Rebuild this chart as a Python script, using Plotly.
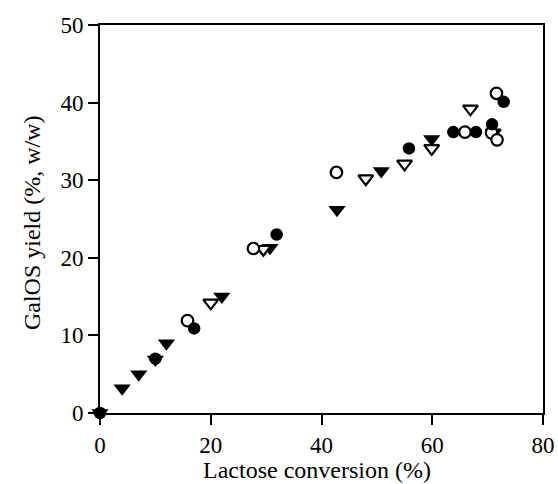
import plotly.graph_objects as go

# Filled down-triangles
ft_x = [0, 4, 7, 10, 12, 22, 30.7, 42.8, 50.8, 59.9]
ft_y = [0, 3.2, 5.0, 6.9, 9.0, 15.0, 21.3, 26.2, 31.2, 35.3]

# Open down-triangles
ot_x = [20, 29.5, 48, 55, 59.9, 66.9, 71]
ot_y = [14.2, 21.1, 30.2, 32.1, 34.1, 39.2, 36.1]

# Filled circles
fc_x = [0, 10, 17, 31.9, 55.8, 63.8, 67.9, 70.8, 72.9]
fc_y = [0, 7.0, 10.9, 23.0, 34.1, 36.2, 36.2, 37.2, 40.1]

# Open circles
oc_x = [15.8, 27.7, 42.7, 65.9, 70.7, 71.7, 71.6]
oc_y = [11.9, 21.2, 31.0, 36.2, 36.1, 35.2, 41.2]

x_ticks = [0, 20, 40, 60, 80]
y_ticks = [0, 10, 20, 30, 40, 50]

x_title = "Lactose conversion (%)"
y_title = "GalOS yield (%, w/w)"

FONT = "Liberation Serif, Times New Roman, serif"

fig = go.Figure()
fig.add_trace(go.Scatter(x=ft_x, y=ft_y, mode="markers", cliponaxis=False,
                         marker=dict(symbol="triangle-down", size=15, color="black",
                                     line=dict(width=0))))
fig.add_trace(go.Scatter(x=ot_x, y=ot_y, mode="markers", cliponaxis=False,
                         marker=dict(symbol="triangle-down", size=13, color="white",
                                     line=dict(width=2.2, color="black"))))
fig.add_trace(go.Scatter(x=oc_x, y=oc_y, mode="markers", cliponaxis=False,
                         marker=dict(symbol="circle", size=11.5, color="white",
                                     line=dict(width=2.2, color="black"))))
fig.add_trace(go.Scatter(x=fc_x, y=fc_y, mode="markers", cliponaxis=False,
                         marker=dict(symbol="circle", size=12.5, color="black",
                                     line=dict(width=0))))

fig.update_layout(
    width=558, height=484,
    margin=dict(l=100, r=15, t=25, b=71),
    paper_bgcolor="white", plot_bgcolor="white",
    showlegend=False,
    font=dict(family=FONT, size=23, color="black"),
    xaxis=dict(range=[0, 80], tickvals=x_ticks, ticks="outside", ticklen=10,
               tickwidth=2, tickcolor="black", showline=True, linewidth=2,
               linecolor="black", mirror=True, showgrid=False, zeroline=False,
               automargin=False, tickfont=dict(size=23)),
    yaxis=dict(range=[0, 50], tickvals=y_ticks, ticks="outside", ticklen=10,
               tickwidth=2, tickcolor="black", showline=True, linewidth=2,
               linecolor="black", mirror=True, showgrid=False, zeroline=False,
               automargin=False, tickfont=dict(size=23)),
    annotations=[
        dict(text=x_title, xref="paper", yref="paper", x=0.49, y=-0.147,
             xanchor="center", yanchor="middle", showarrow=False, borderpad=0,
             font=dict(size=24)),
        dict(text=y_title, xref="paper", yref="paper", x=-0.153, y=0.49,
             xanchor="center", yanchor="middle", textangle=-90, showarrow=False,
             font=dict(size=24)),
    ],
)

fig.write_html("out.html", config={"displayModeBar": False},
               post_script="document.body.style.margin='0px';document.body.style.overflow='hidden';")
